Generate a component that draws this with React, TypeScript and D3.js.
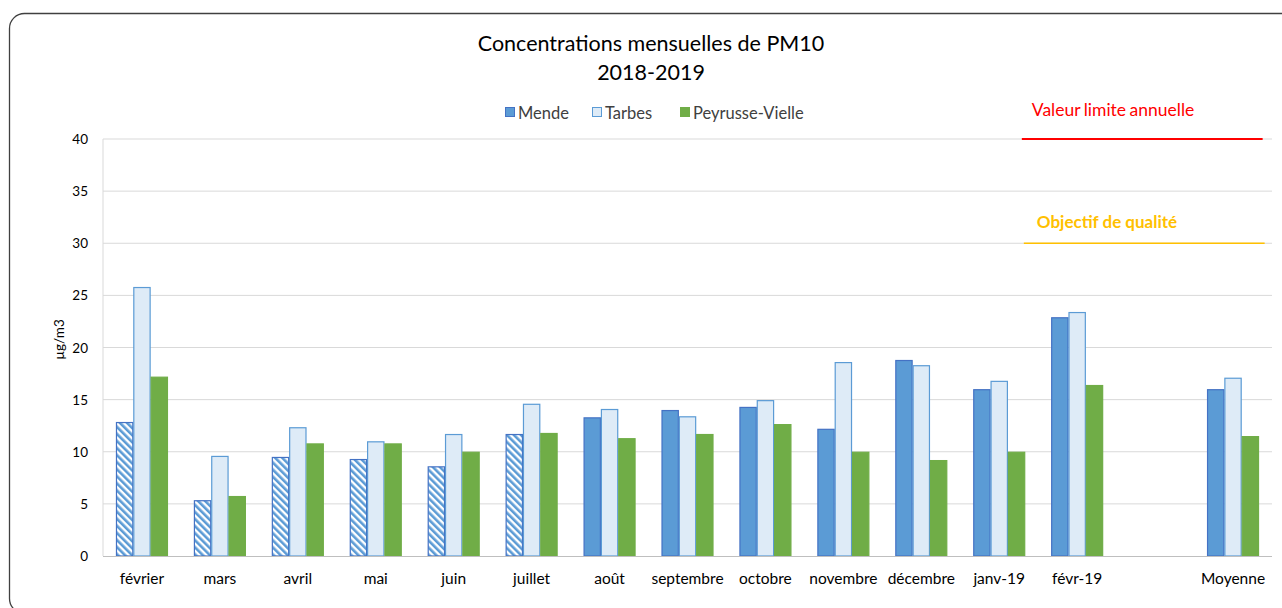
import React, { useEffect, useRef } from 'react';
import * as d3 from 'd3';

const categories = ['février', 'mars', 'avril', 'mai', 'juin', 'juillet', 'août', 'septembre', 'octobre', 'novembre', 'décembre', 'janv-19', 'févr-19', '', 'Moyenne'];
const mende = [12.85, 5.35, 9.5, 9.3, 8.6, 11.7, 13.3, 14.0, 14.3, 12.2, 18.8, 16.0, 22.9, null, 16.0];
const tarbes = [25.8, 9.6, 12.35, 11.0, 11.7, 14.6, 14.1, 13.4, 14.95, 18.6, 18.3, 16.8, 23.4, null, 17.1];
const peyrusse = [17.2, 5.75, 10.8, 10.8, 10.0, 11.8, 11.3, 11.7, 12.65, 10.0, 9.2, 10.0, 16.4, null, 11.5];
// months where the Mende values are shown hatched (incomplete data)
const hatchedMende = ['février', 'mars', 'avril', 'mai', 'juin', 'juillet'];
const yTicks = [0, 5, 10, 15, 20, 25, 30, 35, 40];
const seriesNames = ['Mende', 'Tarbes', 'Peyrusse-Vielle'];
const limitValue = 40;
const qualityValue = 30;

const FONT = 'Lato, "Open Sans", sans-serif';

const App = () => {
  const ref = useRef<SVGSVGElement | null>(null);

  useEffect(() => {
    if (!ref.current) return;
    const root = d3.select(ref.current);
    root.selectAll('*').remove();

    const W = 1282, H = 608;
    const margin = { top: 139, right: 10, bottom: 52, left: 103 };
    const width = W - margin.left - margin.right;
    const height = H - margin.top - margin.bottom;

    const defs = root.append('defs');
    const pat = defs.append('pattern')
      .attr('id', 'hatch')
      .attr('patternUnits', 'userSpaceOnUse')
      .attr('width', 5)
      .attr('height', 5)
      .attr('patternTransform', 'rotate(-45)');
    pat.append('rect').attr('width', 5).attr('height', 5).attr('fill', '#fff');
    pat.append('rect').attr('width', 2.6).attr('height', 5).attr('fill', '#5B9BD5');

    // outer frame
    root.append('rect')
      .attr('x', 9.5).attr('y', 13.5)
      .attr('width', 1300).attr('height', 600)
      .attr('rx', 15)
      .attr('fill', '#fff')
      .attr('stroke', '#404040')
      .attr('stroke-width', 1.3);

    // title
    root.append('text')
      .attr('x', 651).attr('y', 51)
      .attr('text-anchor', 'middle')
      .style('font-family', FONT).style('font-size', '21.5px').style('fill', '#000')
      .text('Concentrations mensuelles de PM10');
    root.append('text')
      .attr('x', 651).attr('y', 80)
      .attr('text-anchor', 'middle')
      .style('font-family', FONT).style('font-size', '21.5px').style('fill', '#000')
      .text('2018-2019');

    const svg = root.append('g').attr('transform', `translate(${margin.left},${margin.top})`);

    const x = d3.scaleBand().domain(categories.map((c, i) => `${i}`)).range([0, width]).paddingInner(0.333).paddingOuter(0.1665);
    const xs = d3.scaleBand().domain(seriesNames).range([0, x.bandwidth()]);
    const y = d3.scaleLinear().domain([0, 40]).range([height, 0]);

    // grid
    svg.append('g')
      .selectAll('line')
      .data(yTicks.slice(1))
      .enter()
      .append('line')
      .attr('x1', 0).attr('x2', width)
      .attr('y1', d => y(d)).attr('y2', d => y(d))
      .attr('stroke', '#D9D9D9').attr('stroke-width', 1);

    svg.append('line')
      .attr('x1', 0).attr('x2', 0).attr('y1', 0).attr('y2', height)
      .attr('stroke', '#D9D9D9');

    // y tick labels
    svg.append('g')
      .selectAll('text')
      .data(yTicks)
      .enter()
      .append('text')
      .attr('x', -15)
      .attr('y', d => y(d) + 5)
      .attr('text-anchor', 'end')
      .style('font-family', FONT).style('font-size', '13.5px').style('fill', '#000')
      .text(d => d);

    svg.append('text')
      .attr('transform', `translate(${-39},${height / 2 - 8}) rotate(-90)`)
      .attr('text-anchor', 'middle')
      .style('font-family', FONT).style('font-size', '13.5px').style('fill', '#000')
      .text('µg/m3');

    // category labels
    svg.append('g')
      .selectAll('text')
      .data(categories)
      .enter()
      .append('text')
      .attr('x', (d, i) => (x(`${i}`) as number) + x.bandwidth() / 2)
      .attr('y', height + 28)
      .attr('text-anchor', 'middle')
      .style('font-family', FONT).style('font-size', '15.5px').style('fill', '#000')
      .text(d => d);

    const groups = [
      { name: 'Mende', values: mende, fill: '#5B9BD5', stroke: '#4472C4' },
      { name: 'Tarbes', values: tarbes, fill: '#DEEBF7', stroke: '#5B9BD5' },
      { name: 'Peyrusse-Vielle', values: peyrusse, fill: '#70AD47', stroke: '#70AD47' },
    ];

    groups.forEach(g => {
      svg.append('g')
        .selectAll('rect')
        .data(g.values.map((v, i) => ({ v, i })).filter(d => d.v !== null))
        .enter()
        .append('rect')
        .attr('x', d => (x(`${d.i}`) as number) + (xs(g.name) as number) + 0.5)
        .attr('y', d => y(d.v as number) + 0.5)
        .attr('width', xs.bandwidth() - 1)
        .attr('height', d => height - y(d.v as number) - 0.5)
        .attr('fill', d => (g.name === 'Mende' && hatchedMende.includes(categories[d.i])) ? 'url(#hatch)' : g.fill)
        .attr('stroke', g.stroke)
        .attr('stroke-width', 1.2);
    });

    // bottom axis line
    svg.append('line')
      .attr('x1', 0).attr('x2', width).attr('y1', height + 0.5).attr('y2', height + 0.5)
      .attr('stroke', '#BFBFBF');

    // reference lines
    const refStart = width * 0.786;
    const refEnd = width * 0.992;
    svg.append('line')
      .attr('x1', refStart).attr('x2', refEnd)
      .attr('y1', y(limitValue)).attr('y2', y(limitValue))
      .attr('stroke', '#FF0000').attr('stroke-width', 2.2);
    svg.append('text')
      .attr('x', refStart + 10).attr('y', y(limitValue) - 23)
      .style('font-family', FONT).style('font-size', '17.5px').style('fill', '#FF0000')
      .style('word-spacing', '-1px')
      .text('Valeur limite annuelle');
    svg.append('line')
      .attr('x1', refStart + 2).attr('x2', refEnd + 2)
      .attr('y1', y(qualityValue)).attr('y2', y(qualityValue))
      .attr('stroke', '#FFC000').attr('stroke-width', 1.6);
    svg.append('text')
      .attr('x', refStart + 15).attr('y', y(qualityValue) - 15)
      .style('font-family', FONT).style('font-size', '17px').style('font-weight', 'bold').style('fill', '#FFC000')
      .text('Objectif de qualité');

    // legend
    const legendX = [505, 592, 680];
    const legend = root.append('g');
    groups.forEach((g, i) => {
      legend.append('rect')
        .attr('x', legendX[i] + 0.5).attr('y', 107.5)
        .attr('width', 9).attr('height', 9)
        .attr('fill', g.fill).attr('stroke', g.stroke);
      legend.append('text')
        .attr('x', legendX[i] + 13).attr('y', 119)
        .style('font-family', FONT).style('font-size', '16.5px').style('fill', '#404040')
        .text(g.name);
    });
  }, []);

  return (
    <svg ref={ref} width={1282} height={608} style={{ position: 'absolute', left: 0, top: 0, background: '#fff' }} />
  );
};

export default App;
